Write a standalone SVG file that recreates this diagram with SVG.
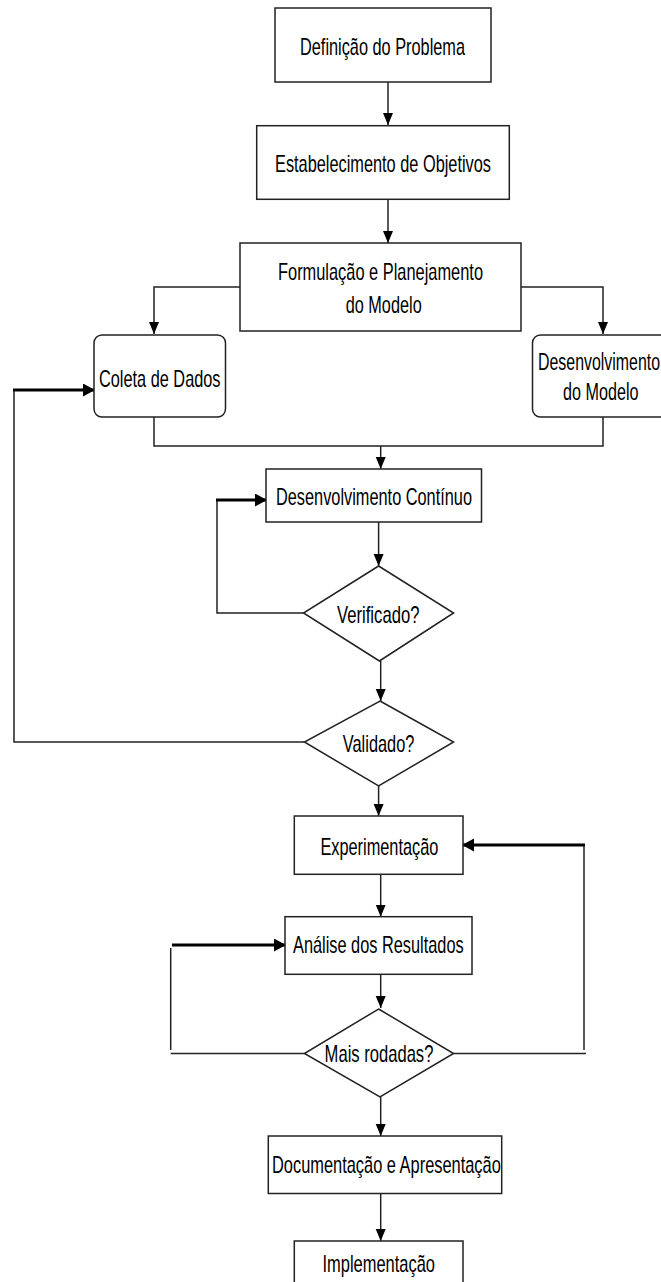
<svg xmlns="http://www.w3.org/2000/svg" width="661" height="1282" viewBox="0 0 661 1282">
<style>
.box{fill:#fff;stroke:#222;stroke-width:1.5}
.ln{fill:none;stroke:#222;stroke-width:1.5}
.thick{fill:none;stroke:#000;stroke-width:3}
text{font-family:"Liberation Sans",Arial,sans-serif;font-size:24px;fill:#000}
</style>
<defs>
<marker id="ah" markerUnits="userSpaceOnUse" markerWidth="12" markerHeight="12" refX="12" refY="5" orient="auto"><path d="M0,0 L12,5 L0,10 z" fill="#000"/></marker>
<marker id="ahT" markerUnits="userSpaceOnUse" markerWidth="13" markerHeight="14" refX="11" refY="6.5" orient="auto"><path d="M0,0 L12,6.5 L0,13 z" fill="#000"/></marker>
</defs>
<rect width="661" height="1282" fill="#fff"/>
<g id="connectors">
<path class="ln" d="M388,82 V125" marker-end="url(#ah)"/>
<path class="ln" d="M388,199 V243" marker-end="url(#ah)"/>
<path class="ln" d="M240,287 H154 V334" marker-end="url(#ah)"/>
<path class="ln" d="M521,287 H603 V334" marker-end="url(#ah)"/>
<path class="ln" d="M154,417 V446 H603 V417"/>
<path class="ln" d="M380.7,446 V469" marker-end="url(#ah)"/>
<path class="ln" d="M378.6,522 V566" marker-end="url(#ah)"/>
<path class="ln" d="M303.5,613 H217 V500"/>
<path class="thick" d="M216,500 H266" marker-end="url(#ahT)"/>
<path class="ln" d="M380.7,661 V701" marker-end="url(#ah)"/>
<path class="ln" d="M304.4,742 H14 V390"/>
<path class="thick" d="M13,390 H94" marker-end="url(#ahT)"/>
<path class="ln" d="M378.6,786 V816" marker-end="url(#ah)"/>
<path class="ln" d="M380.7,874 V916.7" marker-end="url(#ah)"/>
<path class="ln" d="M380.7,974 V1008" marker-end="url(#ah)"/>
<path class="ln" d="M304.4,1053.5 H170.7"/>
<path class="ln" d="M170.7,1050 V948"/>
<path class="thick" d="M172,945 H285" marker-end="url(#ahT)"/>
<path class="ln" d="M453.6,1053.5 H586"/>
<path class="ln" d="M584,1050 V845"/>
<path class="thick" d="M585,845 H463" marker-end="url(#ahT)"/>
<path class="ln" d="M380.7,1097 V1136" marker-end="url(#ah)"/>
<path class="ln" d="M380.7,1194 V1241" marker-end="url(#ah)"/>
</g>
<g id="n1"><rect class="box" x="275" y="8" width="216" height="74"/><text x="300" y="55" textLength="165" lengthAdjust="spacingAndGlyphs">Definição do Problema</text></g>
<g id="n2"><rect class="box" x="256.7" y="125.7" width="252.6" height="73.6"/><text x="275" y="172" textLength="216" lengthAdjust="spacingAndGlyphs">Estabelecimento de Objetivos</text></g>
<g id="n3"><rect class="box" x="240" y="243" width="281" height="88"/><text x="278" y="280" textLength="205" lengthAdjust="spacingAndGlyphs">Formulação e Planejamento</text><text x="345.7" y="312.5" textLength="76" lengthAdjust="spacingAndGlyphs">do Modelo</text></g>
<g id="n4"><rect class="box" x="94" y="335" width="131.5" height="82" rx="8"/><text x="99" y="387" textLength="121.5" lengthAdjust="spacingAndGlyphs">Coleta de Dados</text></g>
<g id="n5"><rect class="box" x="532.5" y="335" width="150" height="82" rx="8"/><text transform="translate(538,370) scale(0.663,1)">Desenvolvimento</text><text transform="translate(563,400) scale(0.674,1)">do Modelo</text></g>
<g id="n6"><rect class="box" x="266" y="469" width="215.5" height="53"/><text x="276" y="505" textLength="196" lengthAdjust="spacingAndGlyphs">Desenvolvimento Contínuo</text></g>
<g id="n7"><polygon class="box" points="378.6,566 453.6,613 379.4,661 303.5,613"/><text x="337" y="623" textLength="82.5" lengthAdjust="spacingAndGlyphs">Verificado?</text></g>
<g id="n8"><polygon class="box" points="380,701 453.6,742 378.6,786 304.4,742"/><text x="342.8" y="752" textLength="71.6" lengthAdjust="spacingAndGlyphs">Validado?</text></g>
<g id="n9"><rect class="box" x="294.3" y="816" width="168.7" height="58.3"/><text x="320.4" y="855" textLength="118" lengthAdjust="spacingAndGlyphs">Experimentação</text></g>
<g id="n10"><rect class="box" x="285" y="916.7" width="187" height="57.6"/><text x="293" y="953" textLength="170.7" lengthAdjust="spacingAndGlyphs">Análise dos Resultados</text></g>
<g id="n11"><polygon class="box" points="378.6,1009 453.6,1053.5 380,1097 304.4,1053.5"/><text x="324.6" y="1062" textLength="108.8" lengthAdjust="spacingAndGlyphs">Mais rodadas?</text></g>
<g id="n12"><rect class="box" x="268.3" y="1136" width="233.4" height="57.5"/><text x="272" y="1173" textLength="228.8" lengthAdjust="spacingAndGlyphs">Documentação e Apresentação</text></g>
<g id="n13"><rect class="box" x="294.3" y="1241" width="168.7" height="60"/><text x="322.5" y="1272" textLength="112.5" lengthAdjust="spacingAndGlyphs">Implementação</text></g>
</svg>
